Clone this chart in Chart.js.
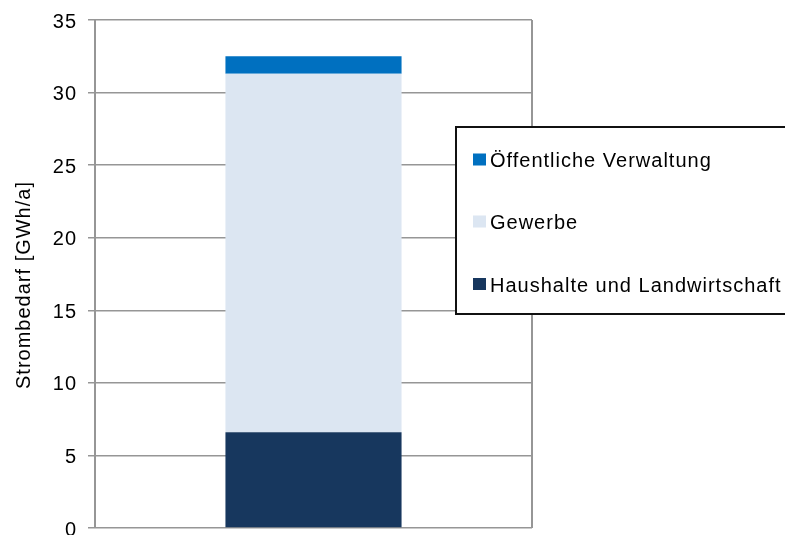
<!DOCTYPE html>
<html>
<head>
<meta charset="utf-8">
<script src="https://cdn.jsdelivr.net/npm/chart.js@4"></script>
<style>
  html, body { margin: 0; padding: 0; background: #fff; overflow: hidden; }
  #wrap { width: 785px; height: 535px; }
</style>
</head>
<body>
<div id="wrap"><canvas id="myChart" width="785" height="535"></canvas></div>
<script>
// data
const categories = [''];
const seriesNames = ['Haushalte und Landwirtschaft', 'Gewerbe', 'Öffentliche Verwaltung'];
const haushalte = [6.6];
const gewerbe = [24.7];
const verwaltung = [1.2];
const yTicks = [0, 5, 10, 15, 20, 25, 30, 35];

const colors = ['#17375E', '#DCE6F2', '#0070C0'];
const gridColor = '#969696';
const fontName = "'Liberation Sans', Arial, sans-serif";

// spacing like the original, applied to all text
const spacingPlugin = {
    id: 'spacing',
    beforeDraw: (chart) => {
        chart.ctx.letterSpacing = '1px';
    }
};

// plot frame on the right + y title
const framePlugin = {
    id: 'frame',
    afterDatasetsDraw: (chart) => {
        const ctx = chart.ctx;
        const a = chart.chartArea;
        ctx.save();
        ctx.strokeStyle = gridColor;
        ctx.lineWidth = 2;
        ctx.beginPath();
        ctx.moveTo(a.right, a.top);
        ctx.lineTo(a.right, a.bottom);
        ctx.stroke();

        ctx.translate(24, 285);
        ctx.rotate(-Math.PI / 2);
        ctx.fillStyle = '#000';
        ctx.font = '20px ' + fontName;
        ctx.letterSpacing = '1px';
        ctx.textAlign = 'center';
        ctx.textBaseline = 'middle';
        ctx.fillText('Strombedarf [GWh/a]', 0, 0);
        ctx.restore();
    }
};

// boxed legend, top series first (box runs off the right edge)
const legendPlugin = {
    id: 'boxLegend',
    afterDraw: (chart) => {
        const ctx = chart.ctx;
        ctx.save();
        ctx.fillStyle = '#fff';
        ctx.fillRect(455, 127, 340, 187);
        ctx.strokeStyle = '#111';
        ctx.lineWidth = 2;
        ctx.beginPath();
        ctx.moveTo(800, 127);
        ctx.lineTo(456, 127);
        ctx.lineTo(456, 314);
        ctx.lineTo(800, 314);
        ctx.stroke();
        const rows = [160.5, 222.5, 285];
        const order = [2, 1, 0];
        ctx.font = '20px ' + fontName;
        ctx.letterSpacing = '1px';
        ctx.textBaseline = 'middle';
        order.forEach((idx, i) => {
            const ds = chart.data.datasets[idx];
            ctx.fillStyle = ds.backgroundColor;
            ctx.fillRect(473, rows[i] - 7, 13, 12);
            ctx.fillStyle = '#000';
            ctx.fillText(ds.label, 490, rows[i] + 1);
        });
        ctx.restore();
    }
};

const ctx = document.getElementById('myChart').getContext('2d');
const myChart = new Chart(ctx, {
    type: 'bar',
    data: {
        labels: categories,
        datasets: [
            { label: seriesNames[0], data: haushalte, backgroundColor: colors[0] },
            { label: seriesNames[1], data: gewerbe, backgroundColor: colors[1] },
            { label: seriesNames[2], data: verwaltung, backgroundColor: colors[2] }
        ]
    },
    options: {
        responsive: false,
        animation: false,
        datasets: {
            bar: { categoryPercentage: 1, barPercentage: 0.403 }
        },
        layout: { padding: { top: 20, bottom: 7, left: 0, right: 253 } },
        plugins: {
            legend: { display: false },
            tooltip: { enabled: false }
        },
        scales: {
            x: {
                stacked: true,
                display: false
            },
            y: {
                stacked: true,
                min: 0,
                max: 35,
                afterBuildTicks: (scale) => {
                    scale.ticks = yTicks.map((v) => ({ value: v }));
                },
                afterFit: (scale) => {
                    scale.width = 95;
                    scale.paddingTop = 0;
                    scale.paddingBottom = 0;
                },
                ticks: {
                    color: '#000',
                    padding: 11,
                    labelOffset: 2,
                    font: { family: fontName, size: 20 }
                },
                grid: {
                    color: gridColor,
                    lineWidth: 1.5,
                    tickLength: 7
                },
                border: { color: gridColor, width: 2 }
            }
        }
    },
    plugins: [spacingPlugin, framePlugin, legendPlugin]
});
</script>
</body>
</html>
